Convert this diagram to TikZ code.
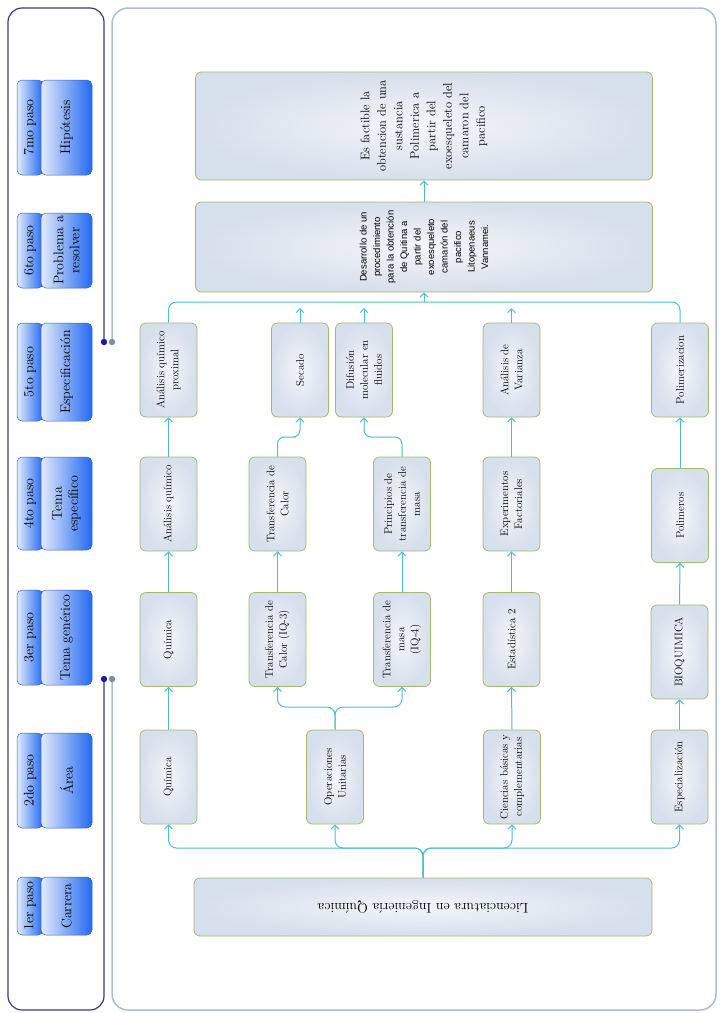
\documentclass[tikz,border=0pt]{standalone}
\usepackage{fontspec}
\newfontfamily\arialfont{Liberation Sans}
\usepackage{tikz}
\usetikzlibrary{arrows.meta,calc}
\definecolor{framenavy}{RGB}{60,60,120}
\definecolor{framegrey}{RGB}{170,190,212}
\definecolor{dotblue}{RGB}{25,30,170}
\definecolor{dotgrey}{RGB}{125,140,170}
\definecolor{boxline}{RGB}{168,184,108}
\definecolor{boxin}{RGB}{243,246,250}
\definecolor{boxout}{RGB}{214,223,236}
\definecolor{linkcolor}{RGB}{78,190,208}
\definecolor{steplight}{RGB}{226,235,252}
\definecolor{stepdark}{RGB}{35,105,240}
\definecolor{stepline}{RGB}{60,95,190}

\begin{document}
\begin{tikzpicture}[x=1pt,y=-1pt,
  lvl/.style={rectangle,rounded corners=6pt,draw=boxline,line width=0.8pt,inner color=boxin,outer color=boxout,rotate=90,minimum width=94pt,minimum height=57pt,inner sep=2pt,align=center,font=\fontsize{11}{14}\selectfont},
  wide/.style={lvl,minimum height=457pt},
  tab/.style={rectangle,rounded corners=5pt,draw=stepline,line width=0.5pt,left color=steplight,right color=stepdark,rotate=90,minimum height=26pt,inner sep=1pt,align=center,font=\fontsize{14}{16}\selectfont},
  stepbox/.style={tab,minimum height=51pt},
  conn/.style={draw=linkcolor,line width=1pt},
  arr/.style={conn,-{Straight Barb[length=4pt,width=8pt]}}
]
  \useasboundingbox (0,0) rectangle (720,1013);

  \draw[framenavy,line width=1.2pt,rounded corners=14pt] (104,342) -- (104,8) -- (8,8) -- (8,1010) -- (104,1010) -- (104,679);
  \draw[framegrey,line width=1.5pt,rounded corners=16pt] (112,342) -- (112,8) -- (716,8) -- (716,1010) -- (112,1010) -- (112,679);
  \fill[dotblue] (104,342) circle (3.2pt) (104,679) circle (3.2pt);
  \fill[dotgrey] (112,342) circle (3.2pt) (112,679) circle (3.2pt);

  \foreach \yc/\len/\num/\txt in {906/58/1er/Carrera, 780.5/95/2do/Área, 637.5/95/3er/Tema genérico,
      503.5/93/4to/{Tema\\específico}, 372/98/5to/Especificación, 250.5/75/6to/{Problema a\\resolver}, 127.5/95/7mo/Hipótesis}{
    \node[tab,minimum width=\len pt] (tab\num) at (30,\yc) {\num{} paso};
    \node[stepbox,minimum width=\len pt] (step\num) at (66.5,\yc) {\txt};
  }

  \node[lvl,rotate=90,minimum width=458pt,minimum height=58pt,font=\fontsize{14}{16}\selectfont] (lic) at (423,907) {Licenciatura en Ingeniería Química};

  \node[lvl] (q2) at (168.5,777) {Química};
  \node[lvl] (ou2) at (335,777) {Operaciones\\Unitarias};
  \node[lvl] (cb2) at (512,777) {Ciencias básicas y\\complementarias};
  \node[lvl] (esp2) at (679.5,777) {Especialización};

  \node[lvl] (q3) at (168.5,639.5) {Química};
  \node[lvl] (tc3) at (277.5,639.5) {Transferencia de\\Calor (IQ-3)};
  \node[lvl] (tm3) at (402,639.5) {Transferencia de\\masa\\(IQ-4)};
  \node[lvl] (es3) at (511.5,639.5) {Estadística 2};
  \node[lvl] (bq3) at (679.5,652) {BIOQUIMICA};

  \node[lvl] (aq4) at (168.5,504) {Análisis químico};
  \node[lvl] (tcal4) at (277.5,504) {Transferencia de\\Calor};
  \node[lvl] (ptm4) at (402,504) {Principios de\\transferencia de\\masa};
  \node[lvl] (ef4) at (511.5,504) {Experimentos\\Factoriales};
  \node[lvl] (pol4) at (680,515.5) {Polimeros};

  \node[lvl] (apq5) at (168.5,370) {Análisis químico\\proximal};
  \node[lvl] (sec5) at (300,370) {Secado};
  \node[lvl] (dif5) at (364,370) {Difusión\\molecular en\\fluidos};
  \node[lvl] (av5) at (511.5,370) {Análisis de\\Varianza};
  \node[lvl] (polz5) at (680,370) {Polimerizacion};

  \node[wide,minimum width=90pt,font=\arialfont\fontsize{9.5}{13.5}\selectfont] (des) at (424,247) {Desarrollo de un\\procedimiento\\para la obtención\\de Quitina a\\partir del\\exoesqueleto\\camarón del\\pacifico\\Litopenaeus\\Vannamei.};
  \node[wide,minimum width=108pt,font=\fontsize{12.5}{16.5}\selectfont] (hip) at (424,126) {Es factible la\\obtencion de una\\sustancia\\Polimerica a\\partir del\\exoesqueleto del\\camaron del\\pacifico};

  \coordinate (bus1) at (423,848);
  \foreach \n in {q2,ou2,cb2,esp2}
    \draw[arr,rounded corners=8pt] (lic.south) -- (bus1) -| (\n.west);
  \coordinate (ouj) at (335,707);
  \draw[arr,rounded corners=8pt] (ou2.east) -- (ouj) -| (tc3.west);
  \draw[arr,rounded corners=8pt] (ou2.east) -- (ouj) -| (tm3.west);
  \draw[arr] (q2.east) -- (q3.west);
  \draw[arr] (cb2.east) -- (es3.west);
  \draw[arr] (esp2.east) -- (bq3.west);

  \draw[arr] (q3.east) -- (aq4.west);
  \draw[arr] (tc3.east) -- (tcal4.west);
  \draw[arr] (tm3.east) -- (ptm4.west);
  \draw[arr] (es3.east) -- (ef4.west);
  \draw[arr] (bq3.east) -- (pol4.west);

  \draw[arr] (aq4.east) -- (apq5.west);
  \draw[arr,rounded corners=7pt] (tcal4.east) |- ($(tcal4.east)!.5!(sec5.west)$) -| (sec5.west);
  \draw[arr,rounded corners=7pt] (ptm4.east) |- ($(ptm4.east)!.5!(dif5.west)$) -| (dif5.west);
  \draw[arr] (ef4.east) -- (av5.west);
  \draw[arr] (pol4.east) -- (polz5.west);

  \coordinate (bus5) at (424,302);
  \draw[conn,rounded corners=8pt] (apq5.east) |- (bus5) -| (polz5.east);
  \foreach \n in {sec5,dif5,av5}
    \draw[arr,shorten >=6pt] (\n.east) -- (\n.east |- bus5);
  \draw[arr] (bus5) -- (des.west);
  \draw[arr] (des.east) -- (hip.west);
\end{tikzpicture}
\end{document}
